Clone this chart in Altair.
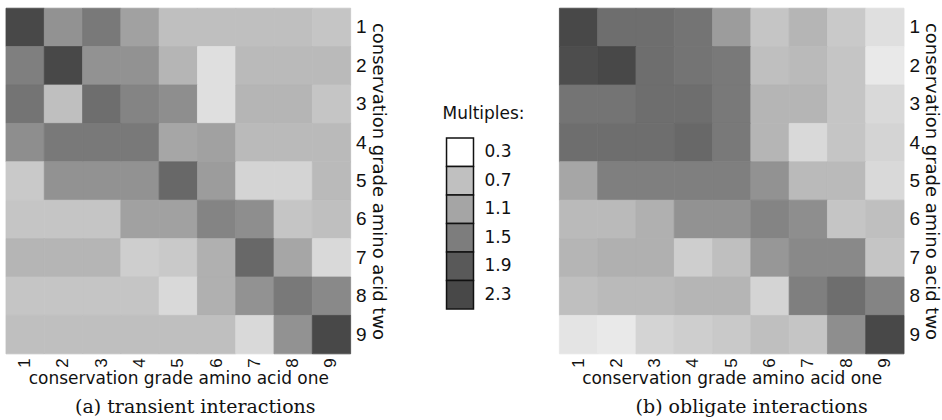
import altair as alt
import pandas as pd

grades = [1, 2, 3, 4, 5, 6, 7, 8, 9]

# rows = conservation grade amino acid two (1..9), columns = grade amino acid one (1..9)
transient_rows = [
    [2.30, 1.29, 1.54, 1.14, 0.71, 0.71, 0.71, 0.71, 0.67],
    [1.48, 2.30, 1.29, 1.29, 0.86, 0.50, 0.79, 0.79, 0.79],
    [1.60, 0.71, 1.66, 1.43, 1.33, 0.50, 0.86, 0.86, 0.67],
    [1.33, 1.54, 1.54, 1.54, 1.09, 1.14, 0.79, 0.79, 0.79],
    [0.64, 1.29, 1.29, 1.29, 1.73, 1.19, 0.57, 0.57, 0.79],
    [0.67, 0.67, 0.67, 1.14, 1.14, 1.43, 1.33, 0.67, 0.71],
    [0.86, 0.86, 0.86, 0.61, 0.64, 0.93, 1.73, 1.09, 0.54],
    [0.67, 0.67, 0.67, 0.67, 0.54, 0.93, 1.29, 1.54, 1.38],
    [0.71, 0.71, 0.71, 0.71, 0.71, 0.71, 0.54, 1.29, 2.30],
]

obligate_rows = [
    [2.30, 1.66, 1.66, 1.60, 1.19, 0.67, 0.86, 0.64, 0.50],
    [2.18, 2.30, 1.66, 1.60, 1.54, 0.71, 0.79, 0.67, 0.44],
    [1.60, 1.60, 1.66, 1.66, 1.54, 0.86, 0.86, 0.67, 0.54],
    [1.66, 1.66, 1.66, 1.73, 1.54, 0.86, 0.54, 0.67, 0.57],
    [1.09, 1.48, 1.48, 1.48, 1.48, 1.29, 0.79, 0.79, 0.54],
    [0.79, 0.79, 0.93, 1.29, 1.29, 1.43, 1.33, 0.67, 0.71],
    [0.86, 0.93, 0.93, 0.61, 0.71, 1.24, 1.38, 1.38, 0.67],
    [0.71, 0.79, 0.79, 0.86, 0.86, 0.57, 1.48, 1.66, 1.43],
    [0.47, 0.44, 0.57, 0.61, 0.64, 0.71, 0.67, 1.33, 2.30],
]

legend_values = [0.3, 0.7, 1.1, 1.5, 1.9, 2.3]
legend_labels = ["0.3", "0.7", "1.1", "1.5", "1.9", "2.3"]
legend_colors = ["#ffffff", "#c0c0c0", "#a5a5a5", "#7d7d7d", "#595959", "#484848"]

x_title = "conservation grade amino acid one"
y_title = "conservation grade amino acid two"
captions = ["(a) transient interactions", "(b) obligate interactions"]


def to_long(rows):
    recs = []
    for i, row in enumerate(rows):
        for j, v in enumerate(row):
            recs.append({"one": grades[j], "two": grades[i], "value": v})
    return pd.DataFrame(recs)


color_scale = alt.Scale(domain=legend_values, range=legend_colors, clamp=True)


def heatmap(rows, caption, dx):
    return (
        alt.Chart(to_long(rows))
        .mark_rect(strokeWidth=0.8)
        .encode(
            x=alt.X(
                "one:O",
                scale=alt.Scale(paddingInner=0, paddingOuter=0),
                axis=alt.Axis(
                    title=x_title, labelAngle=270, ticks=False, domain=False,
                    labelFont="Liberation Sans", labelFontSize=17, labelPadding=4,
                    labelColor="#111", titleFont="DejaVu Sans", titleFontSize=17,
                    titleFontWeight="normal", titlePadding=3, titleColor="#111",
                ),
            ),
            y=alt.Y(
                "two:O",
                scale=alt.Scale(paddingInner=0, paddingOuter=0),
                axis=alt.Axis(
                    title=y_title, orient="right", labelAngle=0, ticks=False,
                    domain=False, labelFont="Liberation Sans", labelFontSize=19,
                    labelPadding=5, labelColor="#111", titleFont="DejaVu Sans",
                    titleFontSize=18, titleFontWeight="normal", titlePadding=2,
                    titleColor="#111",
                ),
            ),
            color=alt.Color("value:Q", scale=color_scale, legend=None),
            stroke=alt.Stroke("value:Q", scale=color_scale, legend=None),
        )
        .properties(
            width=345,
            height=346,
            title=alt.TitleParams(
                caption, orient="bottom", font="DejaVu Serif", fontSize=19,
                fontWeight="normal", color="#111", offset=12, dx=dx,
            ),
        )
    )


left = heatmap(transient_rows, captions[0], 17)
right = heatmap(obligate_rows, captions[1], 20)

leg_df = pd.DataFrame({"value": legend_values, "label": legend_labels})
leg_scale = alt.Scale(range=[130, 301], paddingInner=0, paddingOuter=0)
leg_base = alt.Chart(leg_df)
swatches = leg_base.mark_rect(stroke="#111", strokeWidth=1.5).encode(
    y=alt.Y("label:O", sort=legend_labels, scale=leg_scale, axis=None),
    x=alt.value(60),
    x2=alt.value(87),
    color=alt.Color("value:Q", scale=color_scale, legend=None),
)
labels = leg_base.mark_text(
    align="left", baseline="middle", font="DejaVu Sans", fontSize=17, color="#111"
).encode(
    y=alt.Y("label:O", sort=legend_labels, scale=leg_scale, axis=None, bandPosition=0.5),
    x=alt.value(98),
    text="label:N",
)
leg_title = alt.Chart(pd.DataFrame({"t": ["Multiples:"]})).mark_text(
    align="left", baseline="middle", font="DejaVu Sans", fontSize=17, color="#111"
).encode(x=alt.value(56), y=alt.value(106), text="t:N")

legend_panel = alt.layer(swatches, labels, leg_title).properties(width=172, height=346)

chart = (
    alt.hconcat(left, legend_panel, right, spacing=0)
    .properties(
        padding={"left": 5, "top": 7, "right": 2, "bottom": 1},
        background="white",
    )
    .configure_view(strokeWidth=0, stroke="transparent")
)

chart.save("out.html", embed_options={"renderer": "svg", "actions": False})
